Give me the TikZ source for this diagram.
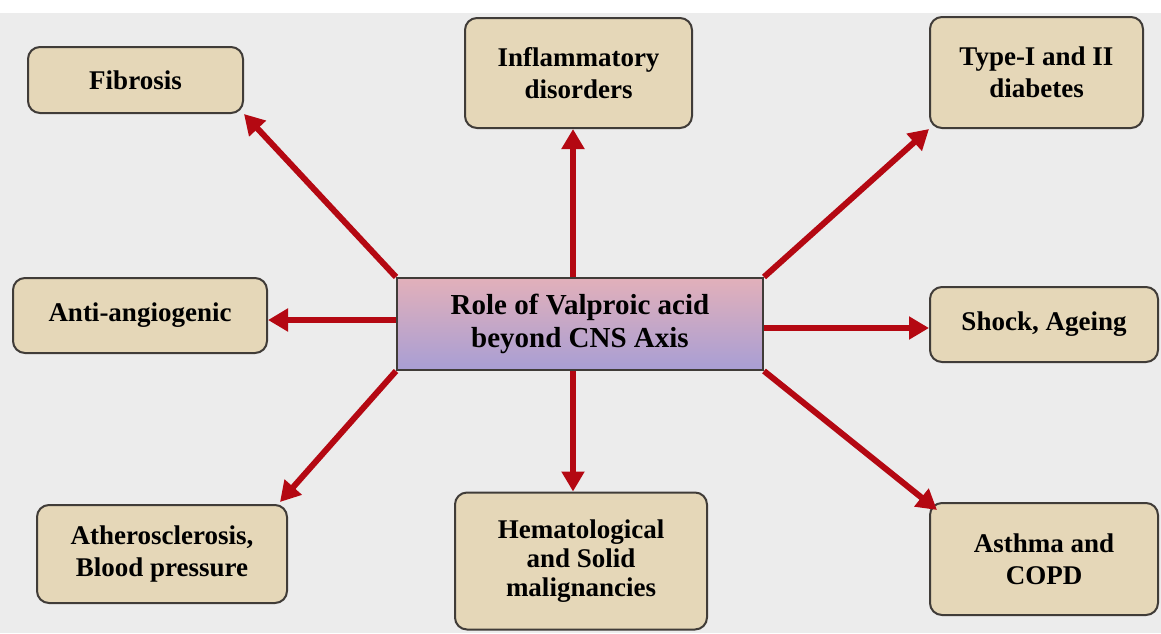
\documentclass[tikz,border=0pt]{standalone}
\usepackage{fontspec}
\setmainfont{Liberation Serif}
\usetikzlibrary{arrows.meta,calc}
\definecolor{bggray}{RGB}{236,236,236}
\definecolor{boxtan}{RGB}{229,215,184}
\definecolor{boxline}{RGB}{64,60,56}
\definecolor{arrowred}{RGB}{180,8,18}
\definecolor{ctop}{RGB}{226,176,186}
\definecolor{cbot}{RGB}{168,158,212}
\begin{document}
\begin{tikzpicture}[x=1pt,y=-1pt,
  outerbox/.style={draw=boxline,line width=2pt,rounded corners=12pt,fill=boxtan,
    inner sep=0pt,align=center,font=\fontsize{27}{32}\selectfont\bfseries},
  centerbox/.style={draw=boxline,line width=2pt,top color=ctop,bottom color=cbot,
    inner sep=0pt,align=center,minimum width=366pt,minimum height=92pt,
    font=\fontsize{29}{33}\selectfont\bfseries},
  redarrow/.style={draw=arrowred,line width=6pt,
    -{Triangle[length=20pt,width=22pt]}}]
\useasboundingbox (0,0) rectangle (1161,633);
\fill[white] (0,0) rectangle (1161,633);
\fill[bggray] (0,13) rectangle (1161,633);

\node[centerbox] (c) at (580,324) {Role of Valproic acid\\beyond CNS Axis};
\node[outerbox,minimum width=215pt,minimum height=66pt] (fib) at (135.5,80) {Fibrosis};
\node[outerbox,minimum width=227pt,minimum height=110pt] (infl) at (578.5,73) {Inflammatory\\disorders};
\node[outerbox,minimum width=213pt,minimum height=111pt] (diab) at (1036.5,72.5) {Type-I and II\\diabetes};
\node[outerbox,minimum width=254pt,minimum height=75pt] (anti) at (140,315.5) {Anti-angiogenic};
\node[outerbox,minimum width=228pt,minimum height=75pt] (shock) at (1044,324.5) {Shock, Ageing};
\node[outerbox,minimum width=250pt,minimum height=98pt] (ath) at (162,554) {Atherosclerosis,\\Blood pressure};
\node[outerbox,minimum width=252pt,minimum height=137pt,
  font=\fontsize{27}{29}\selectfont\bfseries] (hem) at (581,561) {Hematological\\and Solid\\malignancies};
\node[outerbox,minimum width=228pt,minimum height=112pt] (asth) at (1044,559) {Asthma and\\COPD};

\coordinate (ctop) at ($(c.north)+(-7,0)$);
\coordinate (cbot) at ($(c.south)+(-7,0)$);
\coordinate (cleft) at ($(c.west)+(0,-4)$);
\coordinate (cright) at ($(c.east)+(0,4)$);
\coordinate (athtip) at ($(ath.north east)+(-8,-2)$);
\coordinate (asthtip) at ($(asth.north west)+(8,8)$);

\draw[redarrow] (c.north west) -- (fib.south east);
\draw[redarrow] (ctop) -- (ctop |- infl.south);
\draw[redarrow] (c.north east) -- (diab.south west);
\draw[redarrow] (cleft) -- (cleft -| anti.east);
\draw[redarrow] (cright) -- (cright -| shock.west);
\draw[redarrow] (c.south west) -- (athtip);
\draw[redarrow] (cbot) -- (cbot |- hem.north);
\draw[redarrow] (c.south east) -- (asthtip);
\end{tikzpicture}
\end{document}
